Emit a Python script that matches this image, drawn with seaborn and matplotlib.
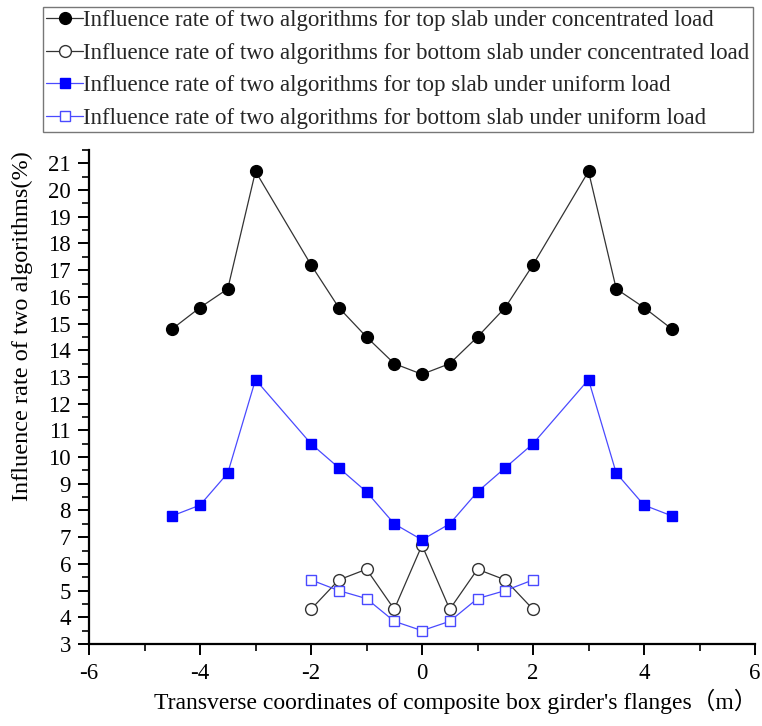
import numpy as np
import pandas as pd
import matplotlib
matplotlib.use("Agg")
import matplotlib.pyplot as plt
import seaborn as sns
from matplotlib.ticker import MultipleLocator

sns.set_theme(style="white")
plt.rcParams["font.family"] = ["Liberation Serif", "Noto Sans CJK SC"]
plt.rcParams["axes.unicode_minus"] = False

# Transverse positions (m)
x_top = [-4.5, -4, -3.5, -3, -2, -1.5, -1, -0.5, 0, 0.5, 1, 1.5, 2, 3, 3.5, 4, 4.5]
x_bottom = [-2, -1.5, -1, -0.5, 0, 0.5, 1, 1.5, 2]

# Influence rates (%)
top_concentrated = [14.8, 15.6, 16.3, 20.7, 17.2, 15.6, 14.5, 13.5, 13.1,
                    13.5, 14.5, 15.6, 17.2, 20.7, 16.3, 15.6, 14.8]
bottom_concentrated = [4.3, 5.4, 5.8, 4.3, 6.7, 4.3, 5.8, 5.4, 4.3]
top_uniform = [7.8, 8.2, 9.4, 12.9, 10.5, 9.6, 8.7, 7.5, 6.9,
               7.5, 8.7, 9.6, 10.5, 12.9, 9.4, 8.2, 7.8]
bottom_uniform = [5.4, 5.0, 4.7, 3.85, 3.5, 3.85, 4.7, 5.0, 5.4]

labels = [
    "Influence rate of two algorithms for top slab under concentrated load",
    "Influence rate of two algorithms for bottom slab under concentrated load",
    "Influence rate of two algorithms for top slab under uniform load",
    "Influence rate of two algorithms for bottom slab under uniform load",
]

fig = plt.figure(figsize=(7.62, 7.26), dpi=100)
ax = fig.add_axes([89 / 762, 1 - 644 / 726, (755 - 89) / 762, (644 - 150) / 726])

styles = [
    dict(x=x_top, y=top_concentrated, color="#333333", marker="o", mfc="black", mec="black", ms=8.5),
    dict(x=x_bottom, y=bottom_concentrated, color="#333333", marker="o", mfc="white", mec="#333333", ms=8.5),
    dict(x=x_top, y=top_uniform, color="#4a4aff", marker="s", mfc="#0000ff", mec="#0000ff", ms=7.3),
    dict(x=x_bottom, y=bottom_uniform, color="#4a4aff", marker="s", mfc="white", mec="#4a4aff", ms=7.3),
]

handles = []
for st, lab in zip(styles, labels):
    df = pd.DataFrame({"x": st["x"], "y": st["y"]})
    sns.lineplot(data=df, x="x", y="y", ax=ax, color=st["color"], linewidth=0.9,
                 marker=st["marker"], markersize=st["ms"], markerfacecolor=st["mfc"],
                 markeredgecolor=st["mec"], markeredgewidth=1.0, label=lab, legend=False,
                 zorder=3)
    handles.append(ax.lines[-1])

ax.set_xlim(-6, 6)
ax.set_ylim(3, 21.5)
ax.xaxis.set_major_locator(MultipleLocator(2))
ax.xaxis.set_minor_locator(MultipleLocator(1))
ax.yaxis.set_major_locator(MultipleLocator(1))
ax.yaxis.set_minor_locator(MultipleLocator(0.5))
ax.set_yticks(np.arange(3, 22, 1))

for side in ["top", "right"]:
    ax.spines[side].set_visible(False)
for side in ["left", "bottom"]:
    ax.spines[side].set_color("black")
    ax.spines[side].set_linewidth(1.6)

ax.tick_params(which="major", direction="out", length=8, width=1.4, colors="black",
               labelsize=16.5, left=True, bottom=True)
ax.tick_params(which="minor", direction="out", length=5, width=1.2, colors="black",
               left=True, bottom=True)
ax.tick_params(axis="x", pad=6)
ax.tick_params(axis="y", pad=5)

ax.set_xlabel("Transverse coordinates of composite box girder's flanges（m）",
              fontsize=17, color="black")
ax.xaxis.set_label_coords(0.55, -0.090)
ax.set_ylabel("Influence rate of two algorithms(%)", fontsize=17.5, color="black")
ax.yaxis.set_label_coords(-0.084, 0.644)
ax.grid(False)

leg = fig.legend(handles, labels, loc="upper left", bbox_to_anchor=(43 / 762, 1 - 7 / 726),
                 fontsize=16.5, frameon=True, fancybox=False, handlelength=1.6,
                 handletextpad=0.0, labelspacing=0.5, borderpad=0.15, borderaxespad=0)
leg.get_frame().set_edgecolor("#555555")
leg.get_frame().set_linewidth(1.0)

fig.savefig("out.png", dpi=100)
